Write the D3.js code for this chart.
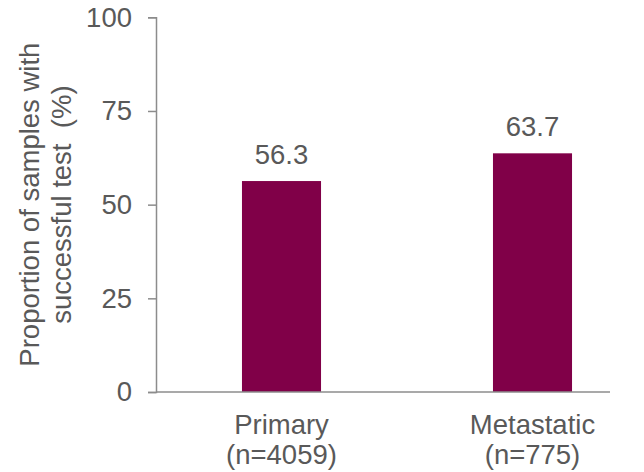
<!DOCTYPE html>
<html>
<head>
<meta charset="utf-8">
<script src="https://cdn.jsdelivr.net/npm/d3@7"></script>
<style>
  html, body { margin: 0; padding: 0; background: #ffffff; }
  svg text { font-family: Arial, "Liberation Sans", sans-serif; fill: #595959; }
</style>
</head>
<body>
<svg id="chart" width="644" height="472"></svg>
<script>
const categories = ["Primary", "Metastatic"];
const categorySubLabels = ["(n=4059)", "(n=775)"];
const values = [56.3, 63.7];
const valueLabels = ["56.3", "63.7"];
const yTicks = [0, 25, 50, 75, 100];
const yTitleLines = ["Proportion of samples with", "successful test  (%)"];

const svg = d3.select("#chart");
const fontSize = 27.5;
const axisColor = "#8c8c8c";
const barColor = "#800048";

const y = d3.scaleLinear().domain([0, 100]).range([392, 17.3]);
const x = d3.scaleBand().domain(categories).range([156, 658])
  .paddingInner(0.685).paddingOuter(0.3425);

// bars
svg.append("g").selectAll("rect").data(values).join("rect")
  .attr("x", (d, i) => x(categories[i]))
  .attr("width", x.bandwidth())
  .attr("y", d => y(d))
  .attr("height", d => y(0) - y(d))
  .attr("fill", barColor);

// y axis
const yAxis = svg.append("g").attr("transform", "translate(156,0)")
  .call(d3.axisLeft(y).tickValues(yTicks).tickSize(8).tickPadding(16).tickFormat(d3.format("d")));
yAxis.select(".domain").attr("stroke", axisColor).attr("stroke-width", 1.5);
yAxis.selectAll(".tick line").attr("stroke", axisColor).attr("stroke-width", 1.5);
yAxis.selectAll(".tick text").attr("font-size", fontSize).attr("fill", "#595959")
  .style("font-family", "Arial, 'Liberation Sans', sans-serif");

// x axis line
svg.append("line")
  .attr("x1", 156).attr("x2", 610)
  .attr("y1", y(0)).attr("y2", y(0))
  .attr("stroke", axisColor).attr("stroke-width", 1.5);

// value labels
svg.append("g").selectAll("text").data(values).join("text")
  .attr("x", (d, i) => x(categories[i]) + x.bandwidth() / 2)
  .attr("y", d => y(d) - 17)
  .attr("text-anchor", "middle")
  .attr("font-size", fontSize)
  .text((d, i) => valueLabels[i]);

// category labels
const cat = svg.append("g").selectAll("text").data(categories).join("text")
  .attr("text-anchor", "middle")
  .attr("font-size", fontSize);
cat.append("tspan")
  .attr("x", d => x(d) + x.bandwidth() / 2).attr("y", 434)
  .text(d => d);
cat.append("tspan")
  .attr("x", d => x(d) + x.bandwidth() / 2).attr("y", 464)
  .text((d, i) => categorySubLabels[i]);

// y title
const yMid = (y(0) + y(100)) / 2;
const titleX = [39, 71];
svg.append("g").selectAll("text").data(yTitleLines).join("text")
  .attr("transform", (d, i) => `translate(${titleX[i]},${yMid}) rotate(-90)`)
  .attr("text-anchor", "middle")
  .attr("font-size", fontSize)
  .style("white-space", "pre")
  .text(d => d);
</script>
</body>
</html>
